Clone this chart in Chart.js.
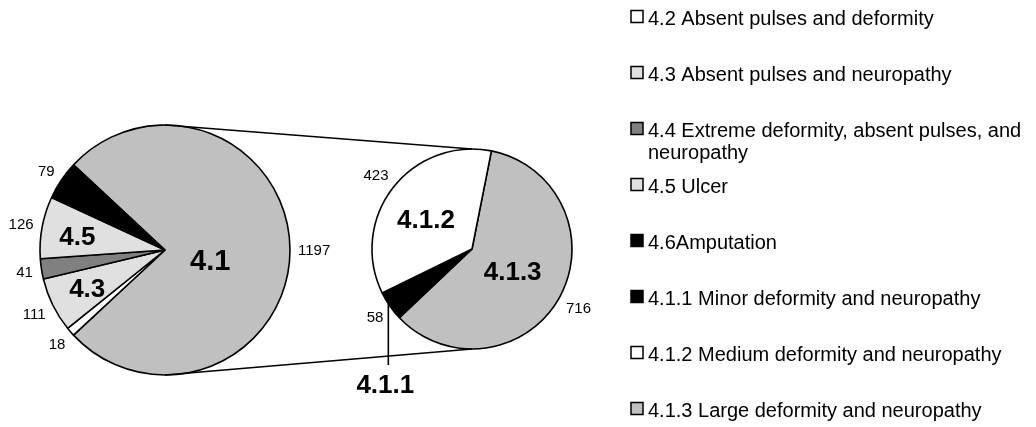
<!DOCTYPE html>
<html>
<head>
<meta charset="utf-8">
<script src="https://cdn.jsdelivr.net/npm/chart.js@4/dist/chart.umd.min.js"></script>
<style>
  html, body { margin: 0; padding: 0; background: #fff; overflow: hidden; }
  #wrap { position: relative; width: 1036px; height: 427px; }
  #wrap canvas { position: absolute; left: 0; top: 0; }
</style>
</head>
<body>
<div id="wrap">
  <canvas id="primary" width="1036" height="427"></canvas>
  <canvas id="secondary" width="1036" height="427"></canvas>
</div>
<script>
// Foot classification counts: primary pie (4.1 is split out in the secondary pie)
const primaryCategories = ['4.1', '4.2', '4.3', '4.4', '4.5', '4.6'];
const primaryValues = [1197, 18, 111, 41, 126, 79];
const primaryColors = ['#C0C0C0', '#FFFFFF', '#E0E0E0', '#808080', '#E0E0E0', '#000000'];

// Breakdown of 4.1 (secondary pie)
const secondaryCategories = ['4.1.3', '4.1.1', '4.1.2'];
const secondaryValues = [716, 58, 423];
const secondaryColors = ['#C0C0C0', '#000000', '#FFFFFF'];

// Legend entries, in display order
const legendLabels = [
  '4.2 Absent pulses and deformity',
  '4.3 Absent pulses and neuropathy',
  '4.4 Extreme deformity, absent pulses, and neuropathy',
  '4.5 Ulcer',
  '4.6Amputation',
  '4.1.1 Minor deformity and neuropathy',
  '4.1.2 Medium deformity and neuropathy',
  '4.1.3 Large deformity and neuropathy'
];
const legendColors = ['#FFFFFF', '#E0E0E0', '#808080', '#E0E0E0', '#000000', '#000000', '#FFFFFF', '#C0C0C0'];

// Category names drawn inside slices: fraction of radius and small angular nudge (deg)
const insideLabels = {
  '4.1':   { frac: 0.37, nudge: 12 },
  '4.3':   { frac: 0.69, nudge: 0.5 },
  '4.5':   { frac: 0.71, nudge: -1 },
  '4.1.2': { frac: 0.55, nudge: -4.4 },
  '4.1.3': { frac: 0.46, nudge: -1 }
};
// Category drawn below the secondary pie with a leader line
const calloutCategory = '4.1.1';

const FONT = '"Liberation Sans", Arial, Helvetica, sans-serif';
const W = 1036, H = 427;

function sum(a) { return a.reduce((s, v) => s + v, 0); }

// Start the "other" slice so that it is centred on the right-hand side
const primaryRotation = -(primaryValues[0] / sum(primaryValues)) * 180 + 90;
const secondaryRotation = 11.2;

function drawValueLabels(chart) {
  const ctx = chart.ctx;
  const meta = chart.getDatasetMeta(0);
  const values = chart.data.datasets[0].data;
  ctx.save();
  ctx.font = '15px ' + FONT;
  ctx.fillStyle = '#000';
  ctx.textAlign = 'center';
  ctx.textBaseline = 'alphabetic';
  const halfCap = 5.4, gap = 8;
  meta.data.forEach((arc, i) => {
    const mid = (arc.startAngle + arc.endAngle) / 2;
    const c = Math.cos(mid), s = Math.sin(mid);
    const txt = String(values[i]);
    const hw = ctx.measureText(txt).width / 2;
    const d = arc.outerRadius + gap + hw * Math.abs(c) + halfCap * Math.abs(s);
    ctx.fillText(txt, arc.x + d * c, arc.y + d * s + halfCap);
  });
  ctx.restore();
}

function drawInsideLabels(chart) {
  const ctx = chart.ctx;
  const meta = chart.getDatasetMeta(0);
  const labels = chart.data.labels;
  ctx.save();
  ctx.fillStyle = '#000';
  ctx.textAlign = 'center';
  ctx.textBaseline = 'alphabetic';
  meta.data.forEach((arc, i) => {
    const p = insideLabels[labels[i]];
    if (!p) return;
    const size = labels[i] === '4.1' ? 29 : 26;
    ctx.font = 'bold ' + size + 'px ' + FONT;
    const mid = (arc.startAngle + arc.endAngle) / 2 + p.nudge * Math.PI / 180;
    const d = arc.outerRadius * p.frac;
    ctx.fillText(labels[i], arc.x + d * Math.cos(mid), arc.y + d * Math.sin(mid) + size * 0.36);
  });
  ctx.restore();
}

const primaryLabelPlugin = {
  id: 'primaryLabels',
  afterDatasetsDraw(chart) {
    drawValueLabels(chart);
    drawInsideLabels(chart);
  }
};

const primaryChart = new Chart(document.getElementById('primary'), {
  type: 'pie',
  data: {
    labels: primaryCategories,
    datasets: [{
      data: primaryValues,
      backgroundColor: primaryColors,
      borderColor: '#000',
      borderWidth: 1.6
    }]
  },
  options: {
    responsive: false,
    animation: false,
    radius: 125,
    rotation: primaryRotation,
    layout: { padding: { left: 40, right: W - 290, top: 125, bottom: H - 375 } },
    plugins: { legend: { display: false }, tooltip: { enabled: false } }
  },
  plugins: [primaryLabelPlugin]
});

const secondaryPlugin = {
  id: 'secondaryExtras',
  afterDatasetsDraw(chart) {
    const ctx = chart.ctx;
    drawValueLabels(chart);
    drawInsideLabels(chart);

    // series lines joining the two pies
    const pArc = primaryChart.getDatasetMeta(0).data[0];
    const sArc = chart.getDatasetMeta(0).data[0];
    ctx.save();
    ctx.strokeStyle = '#000';
    ctx.lineWidth = 1.6;
    ctx.beginPath();
    ctx.moveTo(pArc.x, pArc.y - pArc.outerRadius);
    ctx.lineTo(sArc.x, sArc.y - sArc.outerRadius);
    ctx.moveTo(pArc.x, pArc.y + pArc.outerRadius);
    ctx.lineTo(sArc.x, sArc.y + sArc.outerRadius);
    ctx.stroke();

    // callout for the thin slice
    const idx = chart.data.labels.indexOf(calloutCategory);
    const arc = chart.getDatasetMeta(0).data[idx];
    const mid = (arc.startAngle + arc.endAngle) / 2;
    const ax = arc.x + arc.outerRadius * Math.cos(mid) - 1.5;
    const ay = arc.y + arc.outerRadius * Math.sin(mid) - 4;
    const endY = arc.y + arc.outerRadius + 16;
    ctx.beginPath();
    ctx.moveTo(ax, ay);
    ctx.lineTo(ax, endY);
    ctx.stroke();
    ctx.font = 'bold 26px ' + FONT;
    ctx.fillStyle = '#000';
    ctx.textAlign = 'center';
    ctx.fillText(calloutCategory, ax - 3, endY + 28);

    // legend
    ctx.font = '20px ' + FONT;
    ctx.textAlign = 'left';
    ctx.textBaseline = 'alphabetic';
    const boxX = 631, textX = 648, maxW = W - textX - 4;
    legendLabels.forEach((label, i) => {
      const base = 25 + i * 56;
      ctx.fillStyle = legendColors[i];
      ctx.fillRect(boxX, base - 14.5, 12, 12);
      ctx.lineWidth = 1.5;
      ctx.strokeStyle = '#000';
      ctx.strokeRect(boxX, base - 14.5, 12, 12);
      // simple word wrap
      const words = label.split(' ');
      let line = '', y = base;
      ctx.fillStyle = '#000';
      words.forEach(w => {
        const test = line ? line + ' ' + w : w;
        if (ctx.measureText(test).width > maxW && line) {
          ctx.fillText(line, textX, y);
          line = w;
          y += 22;
        } else {
          line = test;
        }
      });
      ctx.fillText(line, textX, y);
    });
    ctx.restore();
  }
};

new Chart(document.getElementById('secondary'), {
  type: 'pie',
  data: {
    labels: secondaryCategories,
    datasets: [{
      data: secondaryValues,
      backgroundColor: secondaryColors,
      borderColor: '#000',
      borderWidth: 1.6
    }]
  },
  options: {
    responsive: false,
    animation: false,
    radius: 100,
    rotation: secondaryRotation,
    layout: { padding: { left: 372, right: W - 572, top: 149, bottom: H - 349 } },
    plugins: { legend: { display: false }, tooltip: { enabled: false } }
  },
  plugins: [secondaryPlugin]
});
</script>
</body>
</html>
